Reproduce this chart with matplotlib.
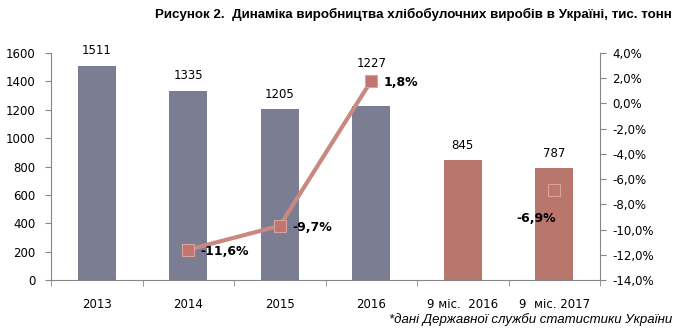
import numpy as np
import matplotlib.pyplot as plt
from matplotlib.ticker import FuncFormatter, FixedLocator

categories = ['2013', '2014', '2015', '2016', '9 міс.  2016', '9  міс. 2017']
production = [1511, 1335, 1205, 1227, 845, 787]
growth = [np.nan, -11.6, -9.7, 1.8, np.nan, -6.9]
bar_colors = ['#7b7e93', '#7b7e93', '#7b7e93', '#7b7e93', '#b9766d', '#b9766d']

title = 'Рисунок 2.  Динаміка виробництва хлібобулочних виробів в Україні, тис. тонн'
note = '*дані Державної служби статистики України'

plt.rcParams['font.family'] = ['DejaVu Sans']
fig = plt.figure(figsize=(6.8, 3.34), dpi=100)
ax = fig.add_axes([51 / 680, 1 - 280 / 334, 549 / 680, 227 / 334])
ax2 = ax.twinx()

x = np.arange(len(categories))
ax.bar(x, production, width=0.41, color=bar_colors, zorder=2)
for xi, v in zip(x, production):
    # the 2016 label sits higher, above the line marker
    dy = 26 if xi == 3 else 6
    ax.annotate(str(v), (xi, v), xytext=(0, dy), textcoords='offset points',
                ha='center', va='bottom', fontsize=8.5)

ax.set_xlim(-0.5, len(categories) - 0.5)
ax.set_ylim(0, 1600)
ax.set_yticks(np.arange(0, 1601, 200))
ax.set_xticks(x)
ax.set_xticklabels(categories)
ax.xaxis.set_minor_locator(FixedLocator(np.arange(-0.5, len(categories), 1)))
ax.tick_params(axis='x', which='major', length=0, pad=13, labelsize=8.5)
ax.tick_params(axis='x', which='minor', length=4, color='#868686', direction='out')
ax.tick_params(axis='y', length=4, color='#868686', labelsize=8.5, pad=7)

# growth line, broken where there is no value
ax2.plot(x, growth, color='#c98880', linewidth=3, zorder=3)
ax2.plot(x, growth, linestyle='none', marker='s', markersize=8.5,
         markerfacecolor='#c0766e', markeredgecolor='#d9a39c', markeredgewidth=0.8, zorder=4)
for xi, g in zip(x, growth):
    if np.isnan(g):
        continue
    lbl = f'{g:.1f}%'.replace('.', ',')
    if xi == 5:
        ax2.annotate(lbl, (xi, g), xytext=(-13, -20), textcoords='offset points',
                     ha='center', va='center', fontsize=9, fontweight='bold')
    else:
        ax2.annotate(lbl, (xi, g), xytext=(9, -1.5), textcoords='offset points',
                     ha='left', va='center', fontsize=9, fontweight='bold')

ax2.set_ylim(-14, 4)
ax2.set_yticks(np.arange(-14, 4.1, 2))
ax2.yaxis.set_major_formatter(FuncFormatter(lambda v, p: f'{v:.1f}%'.replace('.', ',')))
ax2.tick_params(axis='y', length=4, color='#868686', direction='out', labelsize=8.5, pad=5)

for a in (ax, ax2):
    a.spines['top'].set_visible(False)
    for s in ('left', 'right', 'bottom'):
        a.spines[s].set_color('#868686')
        a.spines[s].set_linewidth(0.8)
ax.spines['right'].set_visible(False)
ax2.spines['left'].set_visible(False)
ax2.spines['bottom'].set_visible(False)

fig.text(672 / 680, 1 - 14 / 334, title, ha='right', va='center',
         fontsize=9.6, fontweight='bold', family=['Liberation Sans', 'DejaVu Sans'])
fig.text(672 / 680, 1 - 320 / 334, note, ha='right', va='center',
         fontsize=9.5, style='italic', family=['Liberation Sans', 'DejaVu Sans'])

fig.savefig('out.png', dpi=100)
